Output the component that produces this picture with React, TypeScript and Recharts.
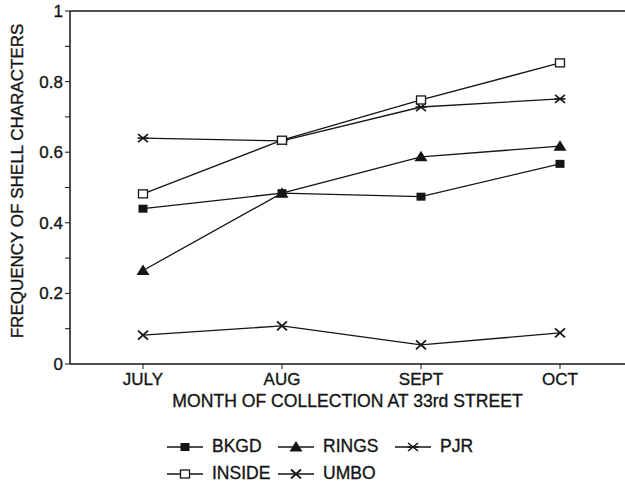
import React from "react";
import { LineChart, Line, XAxis, YAxis, Legend, ReferenceLine } from "recharts";

const months = ["JULY", "AUG", "SEPT", "OCT"];
const bkgd = [0.44, 0.484, 0.474, 0.567];
const rings = [0.265, 0.484, 0.587, 0.617];
const pjr = [0.64, 0.632, 0.728, 0.751];
const inside = [0.482, 0.634, 0.748, 0.853];
const umbo = [0.082, 0.108, 0.054, 0.088];
const yTicks = [0, 0.1, 0.2, 0.3, 0.4, 0.5, 0.6, 0.7, 0.8, 0.9, 1];

const data = months.map((m, i) => ({
  month: m,
  bkgd: bkgd[i],
  rings: rings[i],
  pjr: pjr[i],
  inside: inside[i],
  umbo: umbo[i],
}));

const INK = "#151515";
const FONT = "'Liberation Sans', Arial, Helvetica, sans-serif";

type Shape = "square" | "triangle" | "star" | "open" | "cross";

const series: { key: string; name: string; shape: Shape }[] = [
  { key: "bkgd", name: "BKGD", shape: "square" },
  { key: "rings", name: "RINGS", shape: "triangle" },
  { key: "pjr", name: "PJR", shape: "star" },
  { key: "inside", name: "INSIDE", shape: "open" },
  { key: "umbo", name: "UMBO", shape: "cross" },
];

const Marker = ({ shape, x, y }: { shape: Shape; x: number; y: number }) => {
  switch (shape) {
    case "square":
      return <rect x={x - 4.5} y={y - 4} width={9} height={8} fill={INK} />;
    case "triangle":
      return <polygon points={`${x},${y - 6} ${x - 6.5},${y + 4.5} ${x + 6.5},${y + 4.5}`} fill={INK} />;
    case "star":
      return (
        <g stroke={INK} strokeWidth={1.6}>
          <line x1={x - 5} y1={y - 4} x2={x + 5} y2={y + 4} />
          <line x1={x - 5} y1={y + 4} x2={x + 5} y2={y - 4} />
          <line x1={x - 5.5} y1={y} x2={x + 5.5} y2={y} />
        </g>
      );
    case "open":
      return <rect x={x - 4.5} y={y - 4} width={9} height={8} fill="#fff" stroke={INK} strokeWidth={1.3} />;
    case "cross":
      return (
        <g stroke={INK} strokeWidth={1.8}>
          <line x1={x - 5} y1={y - 4.5} x2={x + 5} y2={y + 4.5} />
          <line x1={x - 5} y1={y + 4.5} x2={x + 5} y2={y - 4.5} />
        </g>
      );
  }
  return null;
};

const makeDot = (shape: Shape) => (props: any) => {
  const { cx, cy, index } = props;
  if (cx == null || cy == null) return <g key={index} />;
  return (
    <g key={`${shape}-${index}`}>
      <Marker shape={shape} x={cx} y={cy} />
    </g>
  );
};

const LegendBox = () => {
  const rows = [series.slice(0, 3), series.slice(3)];
  return (
    <div
      style={{
        height: 56,
        paddingTop: 3,
        boxSizing: "border-box",
        fontFamily: FONT,
        fontSize: 17.5,
        color: INK,
        WebkitTextStroke: "0.35px #151515",
      }}
    >
      {rows.map((row, r) => (
        <div key={r} style={{ display: "flex", height: 27, alignItems: "center", paddingLeft: 167 }}>
          {row.map((s, i) => (
            <div key={s.key} style={{ display: "flex", alignItems: "center", width: i === 0 ? 111 : i === 1 ? 117 : "auto" }}>
              <svg width={36} height={14} style={{ marginRight: 9 }}>
                <line x1={0} y1={7} x2={36} y2={7} stroke={INK} strokeWidth={1.3} />
                <Marker shape={s.shape} x={18} y={7} />
              </svg>
              <span>{s.name}</span>
            </div>
          ))}
        </div>
      ))}
    </div>
  );
};

const XTitle = (props: any) => {
  const { viewBox } = props;
  return (
    <text
      x={viewBox.x + viewBox.width / 2}
      y={viewBox.y + 43}
      textAnchor="middle"
      fill={INK}
      stroke={INK}
      strokeWidth={0.35}
      fontSize={17.6}
      fontFamily={FONT}
    >
      MONTH OF COLLECTION AT 33rd STREET
    </text>
  );
};

const YTitle = () => (
  <text
    x={23}
    y={181}
    transform="rotate(-90 23 181)"
    textAnchor="middle"
    fill={INK}
    stroke={INK}
    strokeWidth={0.35}
    fontSize={17}
    fontFamily={FONT}
  >
    FREQUENCY OF SHELL CHARACTERS
  </text>
);

const tickStyle = { fill: INK, stroke: INK, strokeWidth: 0.35, fontSize: 17, fontFamily: FONT };

export default function App() {
  return (
    <div style={{ position: "absolute", left: 0, top: 0, width: 625, height: 486, background: "#fff" }}>
      <LineChart width={625} height={486} data={data} margin={{ top: 11, right: 0, bottom: 0, left: 0 }}>
        <XAxis
          dataKey="month"
          height={66}
          padding={{ left: 73, right: 65 }}
          axisLine={{ stroke: INK, strokeWidth: 1.5 }}
          tickLine={{ stroke: INK }}
          tickSize={5}
          tickMargin={4}
          tick={tickStyle}
          label={<XTitle />}
        />
        <YAxis
          width={70}
          domain={[0, 1]}
          ticks={yTicks}
          interval={0}
          axisLine={{ stroke: INK, strokeWidth: 1.5 }}
          tickLine={{ stroke: INK }}
          tickSize={5}
          tickMargin={2}
          tick={tickStyle}
          tickFormatter={(v: number) => (Math.round(v * 10) % 2 === 0 ? String(Math.round(v * 10) / 10) : "")}
          label={<YTitle />}
        />
        <ReferenceLine y={1} stroke={INK} strokeWidth={1.5} />
        <Legend verticalAlign="bottom" content={<LegendBox />} wrapperStyle={{ left: 0, width: 625 }} />
        {series.map((s) => (
          <Line
            key={s.key}
            dataKey={s.key}
            name={s.name}
            stroke={INK}
            strokeWidth={1.3}
            dot={makeDot(s.shape)}
            activeDot={false}
            isAnimationActive={false}
          />
        ))}
      </LineChart>
    </div>
  );
}
